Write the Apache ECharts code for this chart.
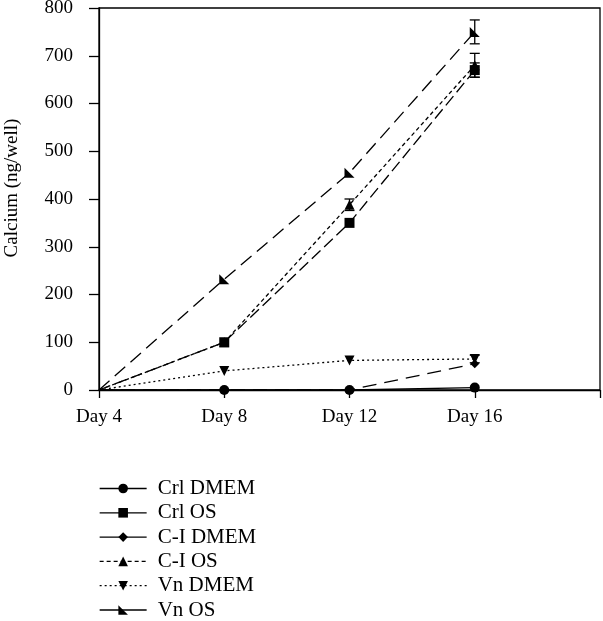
<!DOCTYPE html>
<html><head><meta charset="utf-8">
<script src="https://cdn.jsdelivr.net/npm/echarts@6/dist/echarts.min.js"></script>
<style>html,body{margin:0;padding:0;background:#fff}#c{width:603px;height:621px}</style>
</head><body><div id="c"></div>
<script>
const days = [4, 8, 12, 16];
const xTicks = {4: 'Day 4', 8: 'Day 8', 12: 'Day 12', 16: 'Day 16', 20: ''};
const seriesNames = ['Crl DMEM', 'Crl OS', 'C-I DMEM', 'C-I OS', 'Vn DMEM', 'Vn OS'];
const crlDMEM = [0, 0, 0, 5];
const crlOS = [0, 100, 350, 670];
const ciDMEM = [0, 0, 0, 55];
const ciOS = [0, 100, 388, 680];
const vnDMEM = [0, 40, 62, 65];
const vnOS = [0, 232, 455, 750];
// error bars: [day, value, error]
const errBars = [
  [16, 670, 15],
  [12, 388, 12],
  [16, 680, 25],
  [16, 750, 25],
  [16, 65, 8]
];

const serif = '"Liberation Serif", "DejaVu Serif", serif';
const styles = [
  {sym: 'circle', size: 10, type: 'solid', leg: 'solid'},
  {sym: 'rect', size: 10, type: [12, 5], leg: 'solid'},
  {sym: 'diamond', size: 9, type: [14, 8], leg: 'solid'},
  {sym: 'triangle', size: 10, type: [4, 3], leg: [4, 3]},
  {sym: 'path://M0,10 L10,10 L5,0 Z', size: 10, type: [2, 3], rot: 180, leg: [2, 3]},
  {sym: 'path://M0,0 L0,10 L10,10 Z', size: 10, type: [14, 7], leg: 'solid'}
];
const values = [crlDMEM, crlOS, ciDMEM, ciOS, vnDMEM, vnOS];

const series = seriesNames.map((n, i) => ({
  name: n, type: 'line',
  data: days.map((d, j) => j === 0 ? {value: [d, values[i][j]], symbol: 'none'} : [d, values[i][j]]),
  symbol: styles[i].sym, symbolSize: styles[i].size, symbolRotate: styles[i].rot || 0,
  showSymbol: true,
  symbolKeepAspect: true,
  itemStyle: {color: '#000'},
  lineStyle: {color: '#000', width: 1.3, type: styles[i].type},
  emphasis: {disabled: true},
  z: 3
}));

series.push({
  type: 'custom', name: 'err',
  data: errBars.map(e => [e[0], e[1] - e[2], e[1] + e[2]]),
  renderItem: (params, api) => {
    const lo = api.coord([api.value(0), api.value(1)]);
    const hi = api.coord([api.value(0), api.value(2)]);
    const w = 5;
    const st = {stroke: '#000', lineWidth: 1.3};
    return {type: 'group', children: [
      {type: 'line', shape: {x1: lo[0], y1: lo[1], x2: hi[0], y2: hi[1]}, style: st},
      {type: 'line', shape: {x1: lo[0] - w, y1: lo[1], x2: lo[0] + w, y2: lo[1]}, style: st},
      {type: 'line', shape: {x1: hi[0] - w, y1: hi[1], x2: hi[0] + w, y2: hi[1]}, style: st}
    ]};
  },
  z: 4
});

const chart = echarts.init(document.getElementById('c'));
chart.setOption({
  animation: false,
  backgroundColor: '#fff',
  grid: {left: 99, right: 3, top: 8, bottom: 231, show: true, borderColor: '#000', borderWidth: 1.3, outerBoundsMode: 'none', containLabel: false},
  xAxis: {
    type: 'value', min: 4, max: 20, interval: 4,
    splitLine: {show: false},
    axisLine: {lineStyle: {color: '#000', width: 1.3}},
    axisTick: {length: 8, lineStyle: {color: '#000', width: 1.3}},
    axisLabel: {formatter: v => xTicks[v] || '', color: '#000', fontFamily: serif, fontSize: 19, margin: 18}
  },
  yAxis: {
    type: 'value', min: 0, max: 800, interval: 100,
    name: 'Calcium (ng/well)', nameLocation: 'middle', nameGap: 77,
    nameTextStyle: {color: '#000', fontFamily: serif, fontSize: 19, padding: [0, 0, 0, 22]},
    splitLine: {show: false},
    axisLine: {show: true, lineStyle: {color: '#000', width: 1.3}},
    axisTick: {show: true, length: 10, lineStyle: {color: '#000', width: 1.3}},
    axisLabel: {color: '#000', fontFamily: serif, fontSize: 19, margin: 26}
  },
  legend: {
    data: seriesNames.map((n, i) => ({name: n, lineStyle: {type: styles[i].leg, color: '#000', width: 1.3}})),
    orient: 'vertical', left: 94, top: 473, height: 160,
    itemWidth: 47, itemHeight: 12, itemGap: 3.3,
    textStyle: {color: '#000', fontFamily: serif, fontSize: 21, padding: [0, 0, 0, 6]},
    selectedMode: false
  },
  series: series
});
</script></body></html>
